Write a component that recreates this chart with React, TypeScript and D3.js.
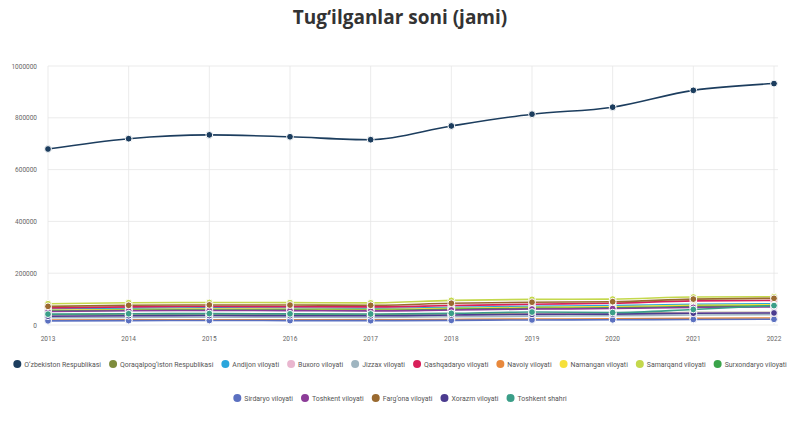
import React from "react";
import * as d3 from "d3";

const years = [2013, 2014, 2015, 2016, 2017, 2018, 2019, 2020, 2021, 2022];
const yTicks = [0, 200000, 400000, 600000, 800000, 1000000];

const seriesNames = [
  "O‘zbekiston Respublikasi",
  "Qoraqalpog‘iston Respublikasi",
  "Andijon viloyati",
  "Buxoro viloyati",
  "Jizzax viloyati",
  "Qashqadaryo viloyati",
  "Navoiy viloyati",
  "Namangan viloyati",
  "Samarqand viloyati",
  "Surxondaryo viloyati",
  "Sirdaryo viloyati",
  "Toshkent viloyati",
  "Farg‘ona viloyati",
  "Xorazm viloyati",
  "Toshkent shahri",
];

const uzbekiston = [679500, 719400, 734000, 726700, 715500, 768500, 814000, 841000, 906000, 932200];
const qoraqalpogiston = [38000, 40000, 40500, 39800, 38900, 41500, 43500, 44500, 48000, 48500];
const andijon = [62000, 65000, 66000, 65500, 64000, 68000, 72000, 75000, 80000, 82000];
const buxoro = [35000, 37000, 37500, 37000, 36500, 39500, 42000, 43500, 47000, 48500];
const jizzax = [28000, 29500, 30000, 29800, 29500, 32000, 34000, 35500, 38500, 40000];
const qashqadaryo = [66000, 70000, 71500, 70500, 70000, 75000, 80000, 84000, 93000, 95000];
const navoiy = [19000, 20000, 20500, 20000, 19800, 21500, 23000, 24000, 26000, 27000];
const namangan = [57000, 60000, 61500, 61000, 60000, 64000, 68000, 70500, 76000, 78000];
const samarqand = [82000, 86000, 87000, 86500, 85500, 95000, 99000, 100000, 108000, 109000];
const surxondaryo = [54000, 57000, 58000, 57500, 56500, 60500, 64000, 66000, 71000, 73000];
const sirdaryo = [16000, 17000, 17300, 17000, 16800, 18000, 19500, 20000, 21500, 22000];
const toshkentViloyati = [52000, 55000, 56000, 55500, 54500, 58000, 61500, 63500, 68000, 70000];
const fargona = [72000, 76000, 77500, 77000, 76000, 84000, 88000, 90000, 100000, 103000];
const xorazm = [34000, 36000, 36500, 36000, 35500, 38500, 41000, 42000, 45500, 46500];
const toshkentShahri = [42000, 43500, 44000, 43000, 42500, 45000, 50000, 48000, 60000, 75000];

const seriesValues = [
  uzbekiston, qoraqalpogiston, andijon, buxoro, jizzax, qashqadaryo, navoiy, namangan,
  samarqand, surxondaryo, sirdaryo, toshkentViloyati, fargona, xorazm, toshkentShahri,
];

const colors = [
  "#1c3d5e", "#7e8c3c", "#2aa6dc", "#e9b6cf", "#9fb5c0", "#d8205a", "#e8883c", "#f6e03a",
  "#c4d84c", "#3aa44a", "#5b70c0", "#8c3c98", "#9a6a30", "#4b3b8f", "#3b9e88",
];

const W = 800;
const H = 424;
const FONT = "Roboto, 'Noto Sans', sans-serif";

function measure(text: string, size: number): number {
  if (typeof document === "undefined") return text.length * size * 0.5;
  const c = document.createElement("canvas").getContext("2d");
  if (!c) return text.length * size * 0.5;
  c.font = `${size}px Roboto`;
  return c.measureText(text).width;
}

export default function App() {
  const x = d3.scaleLinear().domain([2013, 2022]).range([48, 774]);
  const y = d3.scaleLinear().domain([0, 1000000]).range([325, 66]);
  const line = d3
    .line<number>()
    .x((_, i) => x(years[i]))
    .y((d) => y(d))
    .curve(d3.curveMonotoneX);

  const rows = [seriesNames.slice(0, 10), seriesNames.slice(10)];
  const rowY = [364, 398];
  const gap = 8;
  const r = 4;
  const pad = 3;
  // fit first row into the span 13..787
  const span = 774;
  const baseSize = 10;
  const row0Text = d3.sum(rows[0], (n) => measure(n, baseSize));
  const nonText = rows[0].length * (r * 2 + pad) + gap * (rows[0].length - 1);
  const legendSize = Math.min(7.4, (baseSize * (span - nonText)) / row0Text);

  const legendItems: { name: string; idx: number; cx: number; tx: number; cy: number }[] = [];
  let idx = 0;
  rows.forEach((row, ri) => {
    const widths = row.map((n) => r * 2 + pad + measure(n, legendSize));
    const total = d3.sum(widths) + gap * (row.length - 1);
    let cur = W / 2 - total / 2;
    row.forEach((n, j) => {
      legendItems.push({ name: n, idx, cx: cur + r, tx: cur + r * 2 + pad, cy: rowY[ri] });
      cur += widths[j] + gap;
      idx++;
    });
  });

  const order = seriesValues.map((_, i) => i);

  return (
    <svg width={W} height={H} style={{ display: "block", position: "absolute", left: 0, top: 0 }} fontFamily={FONT}>
      <rect width={W} height={H} fill="#fff" />
      <text x={400} y={24} textAnchor="middle" fontSize={19} fontWeight={700} fill="#333" fontFamily="'Open Sans', 'Noto Sans', sans-serif">
        Tug‘ilganlar soni (jami)
      </text>
      {yTicks.map((t) => (
        <g key={t}>
          <line x1={48} x2={778} y1={y(t)} y2={y(t)} stroke="#e6e6e6" strokeWidth={0.8} />
          <text x={37} y={y(t) + 2.5} textAnchor="end" fontSize={6.5} fill="#666">
            {t}
          </text>
        </g>
      ))}
      {years.map((yr) => (
        <g key={yr}>
          <line x1={x(yr)} x2={x(yr)} y1={66} y2={325} stroke="#e6e6e6" strokeWidth={0.8} />
          <text x={x(yr)} y={341} textAnchor="middle" fontSize={6.5} fill="#666">
            {yr}
          </text>
        </g>
      ))}
      {order.map((si) => (
        <path key={"l" + si} d={line(seriesValues[si]) || ""} fill="none" stroke={colors[si]} strokeWidth={1.6} />
      ))}
      {order.map((si) => (
        <g key={"p" + si}>
          {seriesValues[si].map((v, i) => (
            <circle key={i} cx={x(years[i])} cy={y(v)} r={3.4} fill={colors[si]} stroke="#fff" strokeWidth={1} />
          ))}
        </g>
      ))}
      {legendItems.map((it) => (
        <g key={it.name}>
          <circle cx={it.cx} cy={it.cy} r={r} fill={colors[it.idx]} />
          <text x={it.tx} y={it.cy + 2.5} fontSize={legendSize} fill="#555" fontFamily="Roboto, sans-serif">
            {it.name}
          </text>
        </g>
      ))}
    </svg>
  );
}
